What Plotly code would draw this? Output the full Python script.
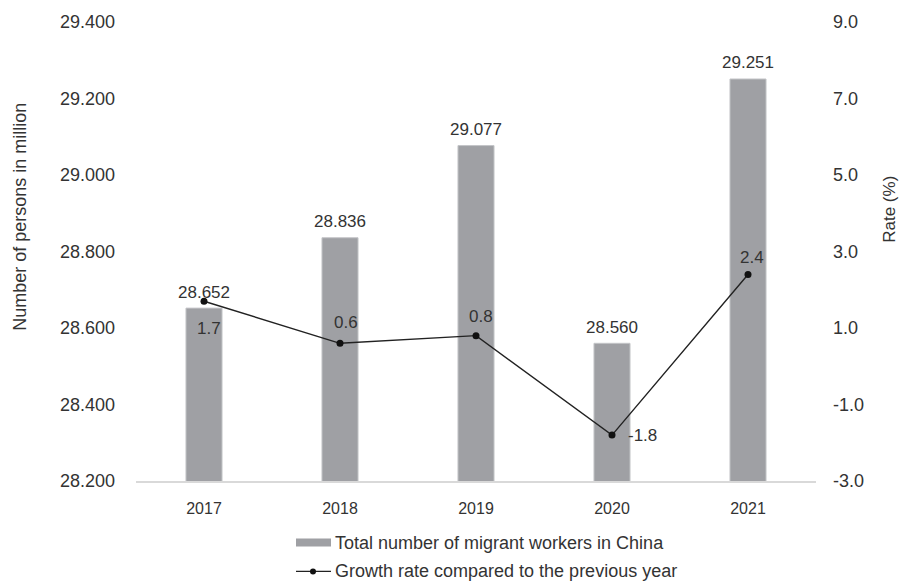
import plotly.graph_objects as go

years = ["2017", "2018", "2019", "2020", "2021"]
workers = [28.652, 28.836, 29.077, 28.560, 29.251]
growth = [1.7, 0.6, 0.8, -1.8, 2.4]

left_ticks = [28.2, 28.4, 28.6, 28.8, 29.0, 29.2, 29.4]
right_ticks = [-3.0, -1.0, 1.0, 3.0, 5.0, 7.0, 9.0]

# offsets of the growth-rate labels relative to their points (px)
growth_label_shift = [(5, -27), (6, 21), (5, 19), (30, 0), (4, 17)]

FONT = "Liberation Sans, Arial, sans-serif"
TXT = "#333333"
BAR = "#9fa0a4"
FS = 18
LBL = 17

fig = go.Figure()

fig.add_trace(go.Bar(
    x=years, y=workers, width=0.265,
    marker=dict(color=BAR, line=dict(color="#c4c5c8", width=1)),
    showlegend=False, yaxis="y",
))

fig.add_trace(go.Scatter(
    x=years, y=growth, mode="lines+markers",
    line=dict(color="#222222", width=1.4),
    marker=dict(color="#111111", size=7),
    showlegend=False, yaxis="y2", cliponaxis=False,
))

# numeric-looking category names would be read as indices, so use the index
for i, w in enumerate(workers):
    fig.add_annotation(x=i, y=w, yref="y", text=f"{w:.3f}", showarrow=False,
                       yanchor="middle", yshift=16,
                       font=dict(family=FONT, size=LBL, color=TXT))

for i, (g, (dx, dy)) in enumerate(zip(growth, growth_label_shift)):
    fig.add_annotation(x=i, y=g, yref="y2", text=f"{g:.1f}", showarrow=False,
                       xshift=dx, yshift=dy,
                       font=dict(family=FONT, size=LBL, color=TXT))

# axis titles
fig.add_annotation(xref="paper", yref="paper", x=(20 - 136) / 680, y=(481 - 215) / 462,
                   xanchor="center", yanchor="middle",
                   text="Number of persons in million", textangle=-90,
                   showarrow=False, font=dict(family=FONT, size=18, color=TXT))
fig.add_annotation(xref="paper", yref="paper", x=(890 - 136) / 680, y=(481 - 208) / 462,
                   xanchor="center", yanchor="middle",
                   text="Rate (%)", textangle=-90,
                   showarrow=False, font=dict(family=FONT, size=17, color=TXT))

# legend drawn below the plot
fig.add_shape(type="rect", xref="paper", yref="paper",
              x0=(296 - 136) / 680, x1=(331 - 136) / 680,
              y0=(481 - 547) / 462, y1=(481 - 539) / 462,
              fillcolor=BAR, line=dict(width=0))
fig.add_shape(type="line", xref="paper", yref="paper",
              x0=(296 - 136) / 680, x1=(331 - 136) / 680,
              y0=(481 - 572) / 462, y1=(481 - 572) / 462,
              line=dict(color="#222222", width=1.4))
fig.add_shape(type="circle", xref="paper", yref="paper",
              x0=(310 - 136) / 680, x1=(316 - 136) / 680,
              y0=(481 - 575) / 462, y1=(481 - 569) / 462,
              fillcolor="#111111", line=dict(width=0))
fig.add_annotation(xref="paper", yref="paper", x=(333 - 136) / 680, y=(481 - 543) / 462,
                   xanchor="left", yanchor="middle", showarrow=False,
                   text="Total number of migrant workers in China",
                   font=dict(family=FONT, size=FS, color=TXT))
fig.add_annotation(xref="paper", yref="paper", x=(333 - 136) / 680, y=(481 - 572) / 462,
                   xanchor="left", yanchor="middle", showarrow=False,
                   text="Growth rate compared to the previous year",
                   font=dict(family=FONT, size=FS, color=TXT))

fig.update_layout(
    width=900, height=585,
    margin=dict(l=136, r=84, t=19, b=104),
    paper_bgcolor="white", plot_bgcolor="white",
    xaxis=dict(type="category", range=[-0.5, 4.5], showgrid=False, showline=True,
               linecolor="#d9d9d9", linewidth=1.5, ticks="", ticklabelstandoff=12,
               tickfont=dict(family=FONT, size=16, color=TXT)),
    yaxis=dict(range=[28.2, 29.4], tickvals=left_ticks,
               ticktext=[f"{v:.3f}" for v in left_ticks],
               showgrid=False, zeroline=False, ticks="", ticklabelstandoff=20,
               tickfont=dict(family=FONT, size=FS, color=TXT)),
    yaxis2=dict(range=[-3, 9], tickvals=right_ticks,
                ticktext=[f"{v:.1f}" for v in right_ticks],
                overlaying="y", side="right", showgrid=False, zeroline=False,
                ticks="", ticklabelstandoff=16,
                tickfont=dict(family=FONT, size=FS, color=TXT)),
)

fig.write_html("out.html")
